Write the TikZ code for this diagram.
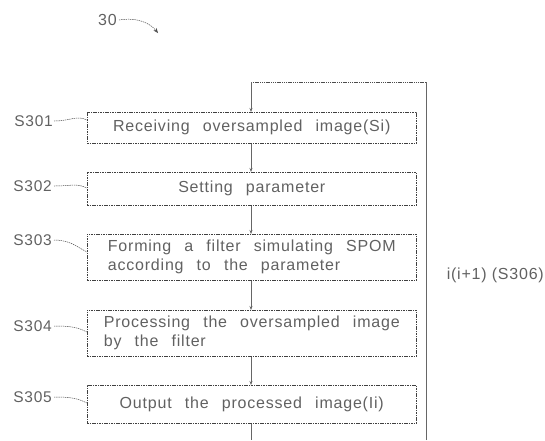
\documentclass[tikz,border=0pt]{standalone}
\usepackage{fontspec}
\setmainfont{Liberation Sans}[LetterSpace=5, WordSpace=2.5]
\usetikzlibrary{arrows.meta,calc}
\begin{document}
\begin{tikzpicture}[x=1pt,y=-1pt,
  txt/.style={font=\fontsize{16}{19}\selectfont, text=black!62},
  stepbox/.style={draw=black!75, line width=0.55pt, dash pattern=on 1.6pt off 0.8pt,
     minimum width=329pt, inner sep=0pt, txt},
  flow/.style={draw=black!60, line width=0.6pt},
  tip/.style={-{Stealth[length=4pt,width=3pt]}},
  lead/.style={draw=black!70, line width=0.5pt, dash pattern=on 1.4pt off 0.8pt},
  lab/.style={txt, font=\fontsize{15.5}{18}\selectfont, anchor=east, inner sep=0pt}]
\useasboundingbox (0,0) rectangle (545,440);
% boxes
\node[stepbox, minimum height=31pt, anchor=north west, align=center] (b1) at (87,112) {Receiving oversampled image(Si)};
\node[stepbox, minimum height=33pt, anchor=north west, align=center] (b2) at (87,172) {Setting parameter};
\node[stepbox, minimum height=46pt, anchor=north west, align=left] (b3) at (87,234) {Forming a filter simulating SPOM\\according to the parameter};
\node[stepbox, minimum height=46pt, anchor=north west, align=left] (b4) at (87,310) {Processing the oversampled image\\by the filter};
\node[stepbox, minimum height=38pt, anchor=north west, align=center] (b5) at (87,385) {Output the processed image(Ii)};
% coordinates for loop
\coordinate (lt) at (251,82);
\coordinate (rt) at (426,82);
\coordinate (rb) at (426,440);
\coordinate (bb) at (251,440);
% connectors
\draw[flow,tip] (b1.south -| lt) -- (b2.north -| lt);
\draw[flow,tip] (b2.south -| lt) -- (b3.north -| lt);
\draw[flow,tip] (b3.south -| lt) -- (b4.north -| lt);
\draw[flow,tip] (b4.south -| lt) -- (b5.north -| lt);
\draw[flow] (b5.south -| lt) -- (bb);
\draw[flow] (rb) -- (rt);
\draw[lead, line width=0.6pt] (rt) -- (lt);
\draw[flow,tip] (lt) -- (b1.north -| lt);
% loop label
\node[txt, anchor=east, inner sep=0pt] (l6) at (544,275) {i(i+1)\hspace{5pt}(S306)};
% step labels
\node[lab] (s1) at (53,121) {S301};
\node[lab] (s2) at (52,186) {S302};
\node[lab] (s3) at (52,240) {S303};
\node[lab] (s4) at (52,326) {S304};
\node[lab] (s5) at (52,397) {S305};
\draw[lead] ($(s1.east)+(1,0)$) .. controls +(16,0) and +(-10,-5) .. ($(b1.north west)+(0,8)$);
\draw[lead] ($(s2.east)+(2,0)$) .. controls +(16,0) and +(-10,-5) .. ($(b2.north west)+(0,16)$);
\draw[lead] ($(s3.east)+(2,0)$) .. controls +(16,0) and +(-10,-5) .. ($(b3.north west)+(0,18)$);
\draw[lead] ($(s4.east)+(2,0)$) .. controls +(16,0) and +(-10,-5) .. ($(b4.north west)+(0,22)$);
\draw[lead] ($(s5.east)+(2,0)$) .. controls +(16,0) and +(-10,-5) .. ($(b5.north west)+(0,18)$);
% figure number
\node[txt, anchor=east, inner sep=0pt] (n30) at (117,20) {30};
\coordinate (a30) at (158,33);
\draw[lead, -{Stealth[length=5pt,width=4pt]}] ($(n30.east)+(2,0)$) .. controls +(18,-3) and +(-8,-10) .. (a30);
\end{tikzpicture}
\end{document}
